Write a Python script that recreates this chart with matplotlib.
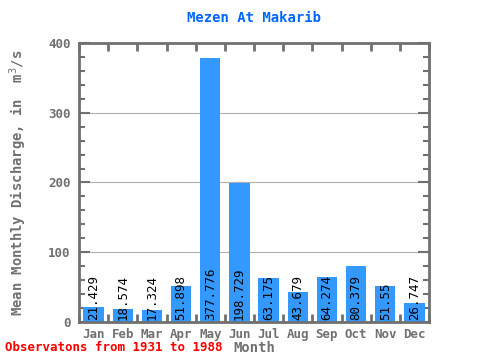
import matplotlib
matplotlib.use("Agg")
import matplotlib.pyplot as plt
import numpy as np

# Mean monthly discharge, Mezen At Makarib
months = ["Jan", "Feb", "Mar", "Apr", "May", "Jun", "Jul", "Aug", "Sep", "Oct", "Nov", "Dec"]
discharge = [21.429, 18.574, 17.324, 51.898, 377.776, 198.729, 63.175, 43.679, 64.274, 80.379, 51.55, 26.747]
value_labels = ["21.429", "18.574", "17.324", "51.898", "377.776", "198.729",
                "63.175", "43.679", "64.274", "80.379", "51.55", "26.747"]

mono = "DejaVu Sans Mono"
grey = "#707070"

fig = plt.figure(figsize=(4.8, 3.6), dpi=100)
ax = fig.add_axes([0.1646, 0.1056, 0.7292, 0.775])

x = np.arange(len(months))
ax.bar(x, discharge, width=0.7, color="#3399ff", zorder=2)

for xi, lab in zip(x, value_labels):
    ax.text(xi, 3, lab, rotation=90, ha="center", va="bottom",
            fontsize=9, family=mono, color="black", zorder=3)

ax.set_xlim(-0.5, 11.5)
ax.set_ylim(0, 400)
ax.set_yticks([0, 100, 200, 300, 400])
ax.set_yticks(np.arange(0, 401, 20), minor=True)
ax.set_xticks(x)
ax.set_xticklabels(months)
ax.set_xticks(np.arange(-0.5, 12, 1), minor=True)
ax.grid(axis="y", color="#b0b0b0", linewidth=0.8, zorder=1)

for s in ax.spines.values():
    s.set_color(grey)
    s.set_linewidth(2)

ax.tick_params(axis="x", which="major", length=0, pad=4, labelsize=9, labelcolor=grey)
ax.tick_params(axis="x", which="minor", direction="in", length=6, width=2,
               color=grey, top=True, bottom=True)
ax.tick_params(axis="y", which="major", direction="in", length=8, width=1.5,
               color=grey, right=True, labelsize=9, labelcolor=grey, pad=6)
ax.tick_params(axis="y", which="minor", direction="in", length=4, width=1.5,
               color=grey, right=True)
for lab in ax.get_xticklabels() + ax.get_yticklabels():
    lab.set_family(mono)
    lab.set_fontweight("bold")

ax.set_title("Mezen At Makarib", family=mono, fontweight="bold",
             color="#0066ff", fontsize=10, pad=15)
ax.set_xlabel("Month", family=mono, fontweight="bold", color=grey, fontsize=10, labelpad=0)
ax.set_ylabel("Mean Monthly Discharge, in  m$^3$/s", family=mono, fontweight="bold",
              color=grey, fontsize=10, labelpad=14)

fig.text(0.01, 0.025, "Observatons from 1931 to 1988", family=mono, fontweight="bold",
         color="red", fontsize=9)

fig.savefig("out.png", dpi=100)
